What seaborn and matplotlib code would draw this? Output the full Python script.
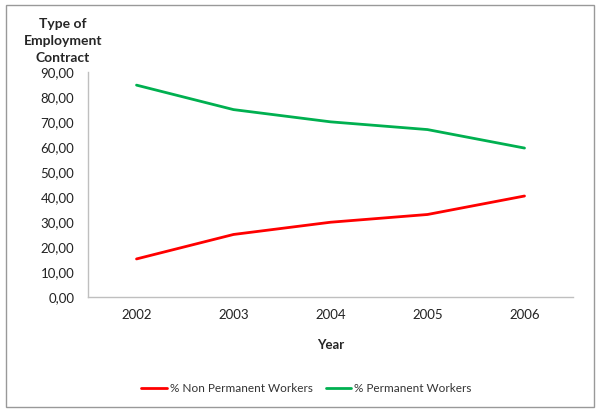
import pandas as pd
import matplotlib.pyplot as plt
import seaborn as sns
from matplotlib.patches import Rectangle

years = ["2002", "2003", "2004", "2005", "2006"]
non_permanent = [15.2, 25.0, 29.9, 33.0, 40.4]
permanent = [84.8, 75.0, 70.1, 67.0, 59.6]
series_names = ["% Non Permanent Workers", "% Permanent Workers"]
y_ticks = [0, 10, 20, 30, 40, 50, 60, 70, 80, 90]

df = pd.DataFrame({
    "Year": years * 2,
    "Value": non_permanent + permanent,
    "Series": [series_names[0]] * len(years) + [series_names[1]] * len(years),
})

sns.set_style("white")
plt.rcParams["font.family"] = ["Lato", "DejaVu Sans"]

fig = plt.figure(figsize=(6, 4.17), dpi=100)
ax = fig.add_axes([0.1467, 0.288, 0.8083, 0.539])

sns.lineplot(data=df, x="Year", y="Value", hue="Series",
             palette=["#ff0000", "#00b050"], linewidth=2, ax=ax, legend=False)

ax.set_xlim(-0.5, 4.5)
ax.set_ylim(0, 90)
ax.set_yticks(y_ticks)
ax.set_yticklabels([f"{v:.2f}".replace(".", ",") for v in y_ticks])
ax.tick_params(axis="both", length=0, labelsize=9.5, colors="#222222")
ax.tick_params(axis="y", pad=10)
ax.tick_params(axis="x", pad=9)
ax.set_xlabel("")
ax.set_ylabel("")
for s in ["top", "right"]:
    ax.spines[s].set_visible(False)
for s in ["left", "bottom"]:
    ax.spines[s].set_color("#bfbfbf")
    ax.spines[s].set_linewidth(1)

fig.text(63 / 600, 1 - 41 / 417, "Type of\nEmployment\nContract", ha="center", va="center",
         fontsize=10, fontweight="bold", linespacing=1.45)
fig.text(331 / 600, 1 - 345 / 417, "Year", ha="center", va="center",
         fontsize=9.5, fontweight="bold")

# legend
lx = [(141, 167, 170, series_names[0], "#ff0000"), (326, 351, 354, series_names[1], "#00b050")]
for x0, x1, xt, name, c in lx:
    y = 1 - 388 / 417
    fig.add_artist(plt.Line2D([x0 / 600, x1 / 600], [y, y], color=c, linewidth=2))
    fig.text(xt / 600, y, name, ha="left", va="center", fontsize=8.5, color="#333333")

fig.add_artist(Rectangle((6 / 600, 10 / 417), 588 / 600, 402 / 417, fill=False,
                         edgecolor="#999999", linewidth=1, transform=fig.transFigure))

fig.savefig("out.png", dpi=100)
